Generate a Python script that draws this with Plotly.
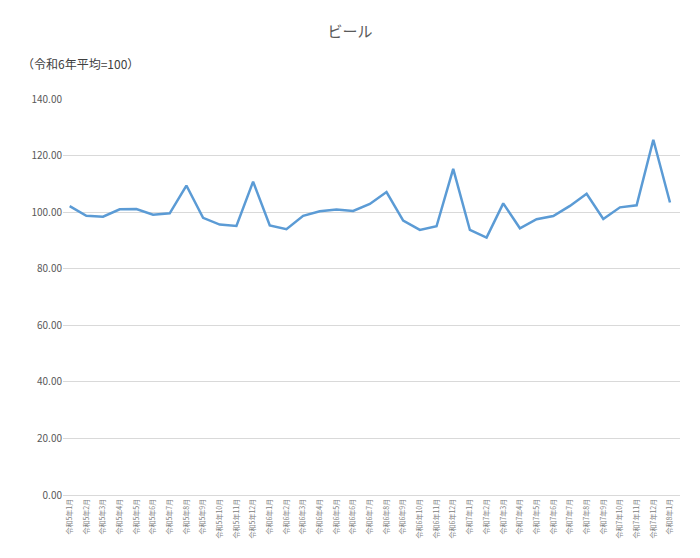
import plotly.graph_objects as go

months = ([f"令和5年{m}月" for m in range(1, 13)] + [f"令和6年{m}月" for m in range(1, 13)]
          + [f"令和7年{m}月" for m in range(1, 13)] + ["令和8年1月"])
values = [102.1, 98.7, 98.4, 101.0, 101.1, 99.1, 99.6, 109.4, 98.0, 95.6, 95.1, 110.8,
          95.3, 94.0, 98.7, 100.3, 100.9, 100.4, 102.9, 107.1, 97.0, 93.7, 95.0, 115.3,
          93.7, 91.0, 103.1, 94.3, 97.5, 98.6, 102.2, 106.5, 97.6, 101.7, 102.4, 125.6, 103.4]

fig = go.Figure(go.Scatter(x=months, y=values, mode="lines",
                           line=dict(color="#5b9bd5", width=2.5)))
fig.update_layout(
    autosize=True, plot_bgcolor="white", paper_bgcolor="white",
    margin=dict(l=55, r=12, t=91, b=53),
    font=dict(family="Noto Sans CJK JP", color="#595959"),
    title=dict(text="ビール", x=0.5, y=0.965, font=dict(size=15, color="#595959")),
    showlegend=False,
    annotations=[dict(text="（令和6年平均=100）", xref="paper", yref="paper",
                      x=-0.07, y=1.115, xanchor="left", showarrow=False,
                      font=dict(size=12, color="#404040"))],
)
fig.update_xaxes(tickangle=-90, tickfont=dict(size=7, color="#808080"), showgrid=False,
                 showline=True, linecolor="#d9d9d9", ticks="", range=[-0.4, 36.6])
fig.update_yaxes(range=[0, 140], dtick=20, tickformat=".2f", gridcolor="#d9d9d9",
                 tickfont=dict(size=10, color="#595959"), zeroline=False)
fig.write_html("out.html", default_width="100%", default_height="100%")
